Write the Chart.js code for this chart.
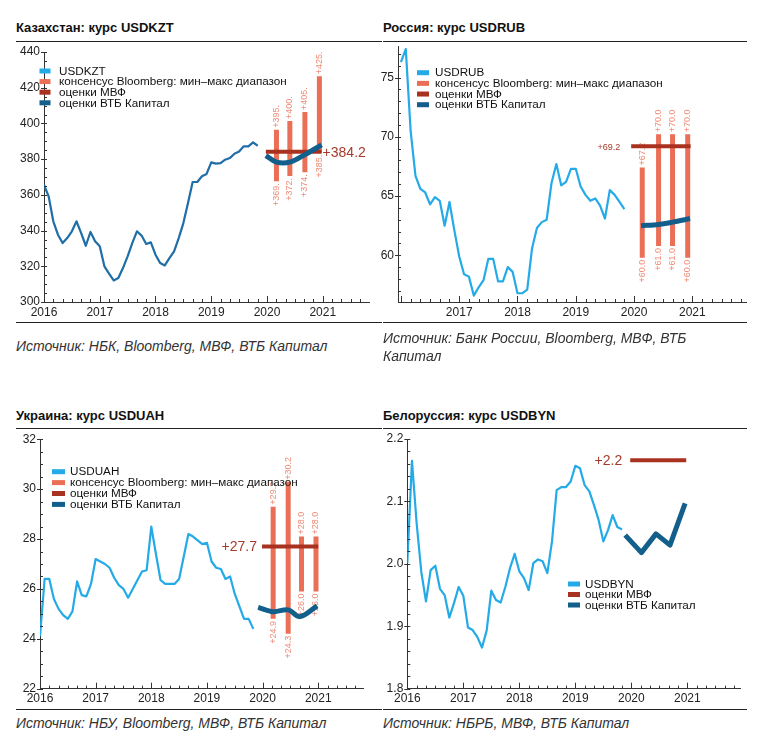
<!DOCTYPE html>
<html>
<head>
<meta charset="utf-8">
<script src="https://cdn.jsdelivr.net/npm/chart.js@4.4.1/dist/chart.umd.min.js"></script>
<style>
  body { margin: 0; background: #fff; width: 763px; height: 743px; position: relative; overflow: hidden;
         font-family: "Liberation Sans", Arial, sans-serif; color: #111; }
  canvas { position: absolute; }
  .title { position: absolute; font-weight: bold; font-size: 13px; line-height: 15px; white-space: nowrap; }
  .rule { position: absolute; height: 0; border-top: 1.5px solid #222; }
  .src { position: absolute; font-style: italic; font-size: 14px; line-height: 17px; color: #333; white-space: nowrap; }
</style>
</head>
<body>
<div class="title" style="left:16px;top:20px">Казахстан: курс USDKZT</div>
<div class="title" style="left:383px;top:20px">Россия: курс USDRUB</div>
<div class="title" style="left:16px;top:408px">Украина: курс USDUAH</div>
<div class="title" style="left:383px;top:408px">Белоруссия: курс USDBYN</div>

<canvas id="kz"></canvas>
<canvas id="ru"></canvas>
<canvas id="ua"></canvas>
<canvas id="by"></canvas>

<div class="rule" style="left:16px;width:366px;top:40.5px"></div>
<div class="rule" style="left:383px;width:364px;top:40.5px"></div>
<div class="rule" style="left:16px;width:366px;top:321.5px"></div>
<div class="rule" style="left:383px;width:364px;top:321.5px"></div>
<div class="rule" style="left:16px;width:366px;top:427.5px"></div>
<div class="rule" style="left:383px;width:364px;top:427.5px"></div>
<div class="rule" style="left:16px;width:366px;top:708.5px"></div>
<div class="rule" style="left:383px;width:364px;top:708.5px"></div>

<div class="src" style="left:16px;top:337.5px">Источник: НБК, Bloomberg, МВФ, ВТБ Капитал</div>
<div class="src" style="left:383px;top:330px;line-height:17.5px">Источник: Банк России, Bloomberg, МВФ, ВТБ<br>Капитал</div>
<div class="src" style="left:16px;top:714.5px">Источник: НБУ, Bloomberg, МВФ, ВТБ Капитал</div>
<div class="src" style="left:383px;top:714.5px">Источник: НБРБ, МВФ, ВТБ Капитал</div>

<script>
// monthly averages, Jan 2016 - Nov 2019
const kzHist = [365.7, 359.2, 345.2, 337.7, 333.0, 335.8, 339.6, 345.2, 338.6, 331.5, 339.2, 334.0,
                331.2, 320.0, 315.9, 312.1, 313.4, 319.0, 325.6, 333.0, 339.6, 337.2, 332.5, 333.4,
                326.5, 321.8, 320.5, 324.6, 328.4, 335.8, 344.2, 355.4, 367.2, 367.2, 370.4, 371.7,
                378.2, 377.5, 377.8, 379.7, 380.6, 383.0, 384.3, 387.2, 387.2, 389.4, 387.5];
const ruHist = [76.3, 77.4, 70.5, 66.7, 65.6, 65.3, 64.3, 64.9, 64.6, 62.5, 64.5, 62.1,
                59.9, 58.4, 58.2, 56.6, 57.3, 57.9, 59.7, 59.7, 57.8, 57.8, 59.0, 58.6,
                56.8, 56.8, 57.1, 60.6, 62.3, 62.8, 63.0, 66.1, 67.7, 65.9, 66.2, 67.3,
                67.3, 65.8, 65.1, 64.6, 64.8, 64.2, 63.1, 65.5, 65.1, 64.5, 63.9];
const uaHist = [24.1, 26.4, 26.4, 25.6, 25.2, 24.95, 24.8, 25.1, 26.3, 25.75, 25.7, 26.2,
                27.2, 27.1, 27.0, 26.85, 26.45, 26.15, 26.0, 25.65, 26.0, 26.35, 26.7, 26.75,
                28.5, 27.4, 26.35, 26.2, 26.2, 26.2, 26.4, 27.3, 28.2, 28.1, 27.95, 27.8,
                27.85, 27.1, 26.85, 26.8, 26.4, 26.5, 25.8, 25.3, 24.8, 24.8, 24.4];
const byHist = [2.001, 2.165, 2.065, 1.987, 1.940, 1.990, 1.997, 1.960, 1.950, 1.914, 1.937, 1.963,
                1.949, 1.898, 1.894, 1.883, 1.866, 1.893, 1.957, 1.942, 1.938, 1.963, 1.993, 2.016,
                1.988, 1.977, 1.958, 2.001, 2.007, 2.004, 1.985, 2.036, 2.118, 2.123, 2.123, 2.132,
                2.157, 2.153, 2.126, 2.116, 2.094, 2.070, 2.036, 2.054, 2.078, 2.059, 2.055];

// Bloomberg consensus min-max
const kzBbX = [2020.17, 2020.41, 2020.68, 2020.94];
const kzBbLo = [369.0, 372.0, 374.0, 385.0];
const kzBbHi = [395.0, 400.0, 405.0, 425.0];
const ruBbX = [2020.14, 2020.42, 2020.66, 2020.92];
const ruBbLo = [60.0, 61.0, 61.0, 60.0];
const ruBbHi = [67.2, 70.0, 70.0, 70.0];
const uaBbX = [2020.19, 2020.46, 2020.70, 2020.96];
const uaBbLo = [24.9, 24.3, 26.0, 26.0];
const uaBbHi = [29.2, 30.2, 28.0, 28.0];

// IMF
const kzImfX = [2019.98, 2020.98], kzImf = 384.2;
const ruImfX = [2019.95, 2020.97], ruImf = 69.2;
const uaImfX = [2019.99, 2021.0], uaImf = 27.7;
const byImfX = [2019.98, 2020.98], byImf = 2.166;

// VTB Capital
const kzVtbX = [2019.98, 2020.17, 2020.41, 2020.68, 2020.98];
const kzVtb = [382.0, 378.3, 378.3, 382.5, 388.0];
const ruVtbX = [2020.12, 2020.42, 2020.66, 2020.96];
const ruVtb = [62.5, 62.6, 62.8, 63.1];
const uaVtbX = [2019.92, 2020.19, 2020.46, 2020.67, 2020.98];
const uaVtb = [25.26, 25.09, 25.16, 24.89, 25.32];
const byVtbX = [2019.89, 2020.18, 2020.44, 2020.69, 2020.96];
const byVtb = [2.046, 2.018, 2.048, 2.030, 2.097];

// tick labels
const yearTicks = [2016, 2017, 2018, 2019, 2020, 2021];
const ruYearTicks = [2017, 2018, 2019, 2020, 2021];
const kzTicks = [300, 320, 340, 360, 380, 400, 420, 440];
const ruTicks = [60, 65, 70, 75];
const uaTicks = [22, 24, 26, 28, 30, 32];
const byTicks = [1.8, 1.9, 2.0, 2.1, 2.2];

const LIGHT = '#25aae8', KZLINE = '#1f6ea6', SALMON = '#ea6f56', RED = '#a8321f', DARK = '#135f8c';
const FONT = '"Liberation Sans", Arial, sans-serif';

Chart.defaults.font.family = FONT;
Chart.defaults.font.size = 12;
Chart.defaults.color = '#222';

const axisTicks = {
  id: 'axisTicks',
  afterDraw(chart, args, o) {
    const {ctx, chartArea: a} = chart;
    const x = chart.scales.x, y = chart.scales.y;
    ctx.save();
    ctx.strokeStyle = '#333';
    ctx.lineWidth = 1;
    ctx.beginPath();
    for (let i = 0; ; i++) {
      const v = 2016 + i / 6;
      if (v > x.max + 1e-6) break;
      if (v < x.min - 1e-6) continue;
      const px = Math.round(x.getPixelForValue(v)) + 0.5;
      ctx.moveTo(px, a.bottom);
      ctx.lineTo(px, a.bottom - (i % 6 === 0 ? 6 : 3));
    }
    const step = o.yMinor;
    for (let k = Math.ceil(y.min / step - 1e-6); k * step <= y.max + 1e-6; k++) {
      const v = k * step;
      const py = Math.round(y.getPixelForValue(v)) + 0.5;
      const major = o.yMajor.some(t => Math.abs(t - v) < step / 10);
      ctx.moveTo(a.left - (major ? 3 : 0), py);
      ctx.lineTo(a.left + 3, py);
    }
    ctx.stroke();
    ctx.restore();
  }
};

const rangeLabels = {
  id: 'rangeLabels',
  afterDatasetDraw(chart, args) {
    const ds = chart.data.datasets[args.index];
    if (!ds.bb) return;
    const {ctx} = chart;
    const x = chart.scales.x, y = chart.scales.y;
    ctx.save();
    ctx.font = '9px ' + FONT;
    ctx.fillStyle = '#ee8b76';
    ctx.textBaseline = 'middle';
    ds.bb.x.forEach((xv, i) => {
      const px = x.getPixelForValue(xv);
      [[ds.bb.hi[i], 'left', -1], [ds.bb.lo[i], 'right', 1]].forEach(([v, align, dir]) => {
        ctx.save();
        ctx.translate(px, y.getPixelForValue(v) + dir * 4.5);
        ctx.rotate(-Math.PI / 2);
        ctx.textAlign = align;
        ctx.fillText(ds.bb.fmt(v), 0, 0);
        ctx.restore();
      });
    });
    ctx.restore();
  }
};

const imfLabel = {
  id: 'imfLabel',
  afterDatasetsDraw(chart, args, o) {
    const ds = chart.data.datasets.find(d => d.imf);
    const {ctx} = chart;
    const x = chart.scales.x, y = chart.scales.y;
    const py = y.getPixelForValue(ds.data[0].y);
    const text = '+' + ds.data[0].y.toFixed(1);
    ctx.save();
    ctx.font = o.size + 'px ' + FONT;
    ctx.fillStyle = '#a53a2a';
    ctx.textBaseline = 'middle';
    if (o.side === 'right') {
      ctx.textAlign = 'left';
      ctx.fillText(text, x.getPixelForValue(ds.data[1].x) + o.gap, py + 1);
    } else {
      ctx.textAlign = 'right';
      ctx.fillText(text, x.getPixelForValue(ds.data[0].x) - o.gap, py + 1);
    }
    ctx.restore();
  }
};

const boxLegend = {
  id: 'boxLegend',
  afterDraw(chart, args, o) {
    const {ctx} = chart;
    ctx.save();
    ctx.font = '11.7px ' + FONT;
    ctx.textBaseline = 'middle';
    chart.data.datasets.forEach((d, i) => {
      const cy = o.y + i * o.step;
      ctx.fillStyle = d.legendColor;
      ctx.fillRect(o.x, cy - 2.5, o.w, 5);
      ctx.fillStyle = '#111';
      ctx.fillText(d.label, o.textX, cy + 0.5);
    });
    ctx.restore();
  }
};

function build(id, c) {
  const cv = document.getElementById(id);
  const b = c.box, a = c.area;
  cv.width = b.w; cv.height = b.h;
  cv.style.left = b.x + 'px'; cv.style.top = b.y + 'px';

  const datasets = [{
    label: c.histLabel,
    data: c.hist.map((v, i) => ({x: 2016 + i / 12, y: v})),
    borderColor: c.histColor, legendColor: LIGHT, borderWidth: 2.2, order: 3
  }];
  if (c.bbX) {
    const pts = [];
    c.bbX.forEach((xv, i) => pts.push({x: xv, y: c.bbLo[i]}, {x: xv, y: c.bbHi[i]}, {x: xv, y: null}));
    datasets.push({
      label: 'консенсус Bloomberg: мин–макс диапазон', data: pts,
      borderColor: SALMON, legendColor: SALMON, borderWidth: 5, borderCapStyle: 'square', order: 2,
      bb: {x: c.bbX, lo: c.bbLo, hi: c.bbHi, fmt: c.bbFmt}
    });
  }
  datasets.push({
    label: 'оценки МВФ', data: c.imfX.map(xv => ({x: xv, y: c.imf})),
    borderColor: RED, legendColor: RED, borderWidth: 4, order: 1, imf: true
  });
  datasets.push({
    label: 'оценки ВТБ Капитал', data: c.vtbX.map((xv, i) => ({x: xv, y: c.vtb[i]})),
    borderColor: DARK, legendColor: DARK, borderWidth: 5, tension: c.tension, order: 0
  });

  return new Chart(cv, {
    type: 'line',
    data: {datasets},
    options: {
      responsive: false,
      animation: false,
      events: [],
      layout: {autoPadding: false, padding: {left: 0, top: a.top - b.y, right: b.x + b.w - a.right, bottom: 0}},
      elements: {point: {radius: 0}, line: {borderJoinStyle: 'round'}},
      plugins: {
        legend: {display: false}, tooltip: {enabled: false},
        axisTicks: {yMinor: c.yMinor, yMajor: c.yTicks},
        imfLabel: c.imfLabel,
        boxLegend: {x: c.legend.x - b.x, w: c.legend.w, textX: c.legend.textX - b.x, y: c.legend.y - b.y, step: c.legend.step}
      },
      scales: {
        x: {
          type: 'linear', min: c.xMin, max: c.xMax,
          afterBuildTicks: s => { s.ticks = c.xTicks.map(v => ({value: v})); },
          afterFit: s => { s.height = b.y + b.h - a.bottom; },
          grid: {display: false, drawTicks: false},
          border: {color: '#333', width: 1},
          ticks: {padding: 3, maxRotation: 0, autoSkip: false, callback: v => String(v)}
        },
        y: {
          type: 'linear', min: c.yMin, max: c.yMax,
          afterBuildTicks: s => { s.ticks = c.yTicks.map(v => ({value: v})); },
          afterFit: s => { s.width = a.left - b.x; },
          grid: {display: false, drawTicks: false},
          border: {color: '#333', width: 1},
          ticks: {padding: 4, autoSkip: false, callback: c.yFmt}
        }
      }
    },
    plugins: [axisTicks, rangeLabels, imfLabel, boxLegend]
  });
}

build('kz', {
  box: {x: 0, y: 39, w: 381, h: 283}, area: {left: 44, top: 52, right: 369, bottom: 302},
  histLabel: 'USDKZT', hist: kzHist, histColor: KZLINE,
  bbX: kzBbX, bbLo: kzBbLo, bbHi: kzBbHi, bbFmt: v => '+' + v.toFixed(1).slice(0, 4),
  imfX: kzImfX, imf: kzImf, imfLabel: {side: 'right', gap: 1, size: 14},
  vtbX: kzVtbX, vtb: kzVtb, tension: 0.35,
  xMin: 2016, xMax: 2021.83, xTicks: yearTicks,
  yMin: 300, yMax: 440, yTicks: kzTicks, yMinor: 5, yFmt: v => String(v),
  legend: {x: 39.5, w: 11, textX: 59, y: 71, step: 10.6}
});

build('ru', {
  box: {x: 376, y: 34, w: 385, h: 288}, area: {left: 398, top: 46.7, right: 746, bottom: 302},
  histLabel: 'USDRUB', hist: ruHist, histColor: LIGHT,
  bbX: ruBbX, bbLo: ruBbLo, bbHi: ruBbHi, bbFmt: v => '+' + v.toFixed(1),
  imfX: ruImfX, imf: ruImf, imfLabel: {side: 'left', gap: 11, size: 9},
  vtbX: ruVtbX, vtb: ruVtb, tension: 0.3,
  xMin: 2015.95, xMax: 2021.92, xTicks: ruYearTicks,
  yMin: 56.06, yMax: 77.6, yTicks: ruTicks, yMinor: 1, yFmt: v => String(v),
  legend: {x: 417, w: 12, textX: 435, y: 72.7, step: 10.67}
});

build('ua', {
  box: {x: 0, y: 426, w: 381, h: 283}, area: {left: 40, top: 439.3, right: 363.3, bottom: 688.7},
  histLabel: 'USDUAH', hist: uaHist, histColor: LIGHT,
  bbX: uaBbX, bbLo: uaBbLo, bbHi: uaBbHi, bbFmt: v => '+' + v.toFixed(1),
  imfX: uaImfX, imf: uaImf, imfLabel: {side: 'left', gap: 5, size: 14},
  vtbX: uaVtbX, vtb: uaVtb, tension: 0.35,
  xMin: 2016, xMax: 2021.81, xTicks: yearTicks,
  yMin: 22, yMax: 32, yTicks: uaTicks, yMinor: 0.5, yFmt: v => String(v),
  legend: {x: 52, w: 13, textX: 70, y: 471.7, step: 10.9}
});

build('by', {
  box: {x: 381, y: 426, w: 380, h: 283}, area: {left: 407.3, top: 439, right: 740, bottom: 688.7},
  histLabel: 'USDBYN', hist: byHist, histColor: LIGHT,
  imfX: byImfX, imf: byImf, imfLabel: {side: 'left', gap: 8, size: 14},
  vtbX: byVtbX, vtb: byVtb, tension: 0,
  xMin: 2016, xMax: 2021.94, xTicks: yearTicks,
  yMin: 1.8, yMax: 2.2, yTicks: byTicks, yMinor: 0.02, yFmt: v => v.toFixed(1),
  legend: {x: 568, w: 12, textX: 585, y: 584, step: 10.5}
});
</script>
</body>
</html>
